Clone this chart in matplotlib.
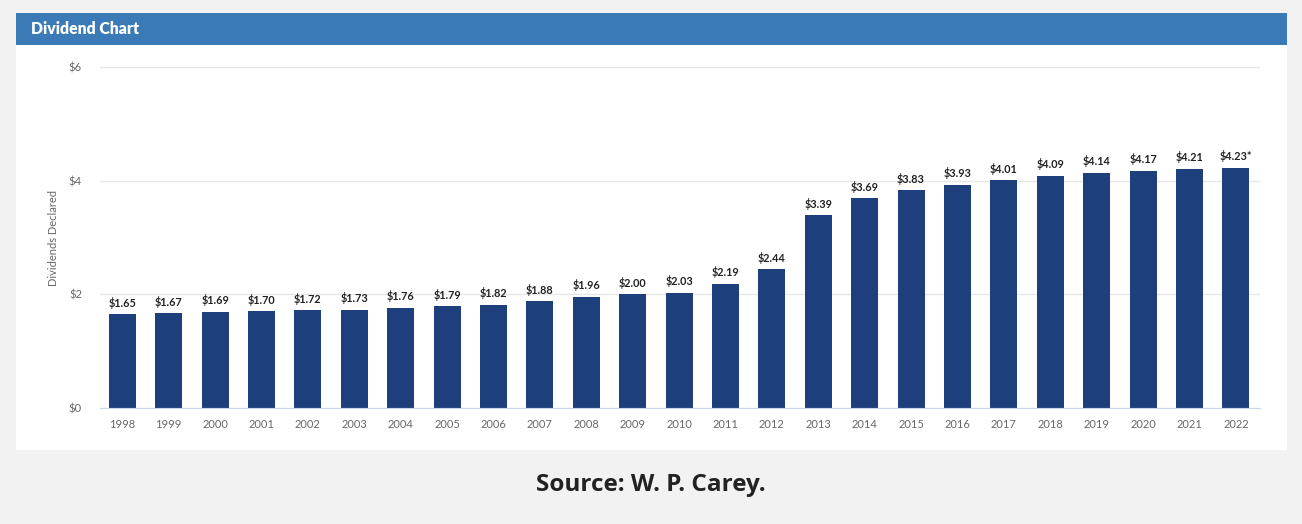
import matplotlib
matplotlib.use("Agg")
import matplotlib.pyplot as plt
from matplotlib.patches import Rectangle

years = ["1998", "1999", "2000", "2001", "2002", "2003", "2004", "2005", "2006", "2007",
         "2008", "2009", "2010", "2011", "2012", "2013", "2014", "2015", "2016", "2017",
         "2018", "2019", "2020", "2021", "2022"]
dividends = [1.65, 1.67, 1.69, 1.70, 1.72, 1.73, 1.76, 1.79, 1.82, 1.88,
             1.96, 2.00, 2.03, 2.19, 2.44, 3.39, 3.69, 3.83, 3.93, 4.01,
             4.09, 4.14, 4.17, 4.21, 4.23]
value_labels = ["$1.65", "$1.67", "$1.69", "$1.70", "$1.72", "$1.73", "$1.76", "$1.79", "$1.82", "$1.88",
                "$1.96", "$2.00", "$2.03", "$2.19", "$2.44", "$3.39", "$3.69", "$3.83", "$3.93", "$4.01",
                "$4.09", "$4.14", "$4.17", "$4.21", "$4.23*"]
yticks = [0, 2, 4, 6]
ytick_labels = ["$0", "$2", "$4", "$6"]

W, H = 1302, 524
fig = plt.figure(figsize=(W / 100, H / 100), dpi=100)
fig.patch.set_facecolor("#f2f2f2")

def fx(px):
    return px / W

def fy(py):
    return 1 - py / H

# white panel
fig.patches.append(Rectangle((fx(16), fy(450)), fx(1287 - 16), (450 - 13) / H,
                             transform=fig.transFigure, facecolor="white", edgecolor="none", zorder=-2))
# header bar
fig.patches.append(Rectangle((fx(16), fy(45)), fx(1287 - 16), (45 - 13) / H,
                             transform=fig.transFigure, facecolor="#3a7ab6", edgecolor="none", zorder=-1))
fig.text(fx(31), fy(29), "Dividend Chart", color="white", fontsize=11.3, fontweight="heavy",
         ha="left", va="center", family="Lato")

ax = fig.add_axes([fx(100), fy(408), fx(1260 - 100), (408 - 67) / H])
ax.set_zorder(5)
ax.set_facecolor("none")
x = list(range(len(years)))
bars = ax.bar(x, dividends, width=0.58, color="#1d3f7b", zorder=3)
for xi, v, lab in zip(x, dividends, value_labels):
    ax.annotate(lab, (xi, v), xytext=(0, 4), textcoords="offset points",
                ha="center", va="bottom", fontsize=7.8, fontweight="bold", color="#222222",
                family="Lato")

ax.set_xlim(-0.48, len(years) - 0.48)
ax.set_ylim(0, 6)
ax.set_yticks(yticks)
ax.set_yticklabels(ytick_labels)
ax.set_xticks(x)
ax.set_xticklabels(years)
ax.tick_params(axis="both", length=0, labelsize=8, labelcolor="#666666")
ax.tick_params(axis="y", pad=13)
ax.tick_params(axis="x", pad=8)
for lab in ax.get_xticklabels() + ax.get_yticklabels():
    lab.set_family("Lato")
ax.grid(axis="y", color="#e6e6e6", linewidth=1, zorder=0)
for s in ["top", "right", "left"]:
    ax.spines[s].set_visible(False)
ax.spines["bottom"].set_color("#ccd6eb")
ax.spines["bottom"].set_zorder(4)
ax.set_ylabel("Dividends Declared", fontsize=8, color="#666666", family="Lato")
ax.yaxis.set_label_coords(-0.035, 0.5)

fig.text(0.5, fy(485), "Source: W. P. Carey.", ha="center", va="center", fontsize=17.5,
         fontweight="bold", color="#222222", family="Open Sans")

fig.savefig("out.png", dpi=100, facecolor=fig.get_facecolor())
